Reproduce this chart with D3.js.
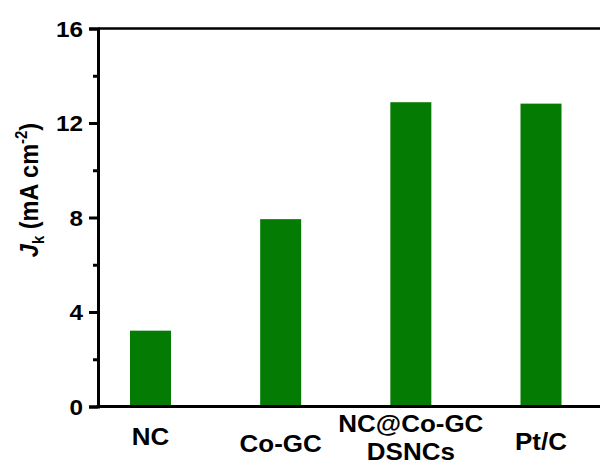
<!DOCTYPE html>
<html>
<head>
<meta charset="utf-8">
<script src="https://cdn.jsdelivr.net/npm/d3@7"></script>
<style>
  html, body { margin: 0; padding: 0; background: #fff; }
  svg { display: block; font-family: "Liberation Sans", Arial, sans-serif; }
</style>
</head>
<body>
<svg id="chart" width="600" height="466"></svg>
<script>
// data
const categories = ["NC", "Co-GC", "NC@Co-GC DSNCs", "Pt/C"];
const labelLines = [["NC"], ["Co-GC"], ["NC@Co-GC", "DSNCs"], ["Pt/C"]];
const jkValues = [3.21, 7.93, 12.88, 12.82];
const majorTicks = [0, 4, 8, 12, 16];
const minorTicks = [2, 6, 10, 14];

const svg = d3.select("#chart");
const plotLeft = 98, plotTop = 28.5, plotBottom = 406.5, plotRight = 640;
const stretch = 1.13; // the original picture is a bit wider than tall

const y = d3.scaleLinear().domain([0, 16]).range([plotBottom, plotTop]);
const x = d3.scalePoint().domain(categories).range([150.5, 541]);
const barW = 41;

// bars
svg.append("g").selectAll("rect")
  .data(categories)
  .join("rect")
  .attr("x", d => x(d) - barW / 2)
  .attr("y", (d, i) => y(jkValues[i]))
  .attr("width", barW)
  .attr("height", (d, i) => y(0) - y(jkValues[i]))
  .attr("fill", "#047c04");

// frame (top and bottom, right edge is outside the picture)
svg.append("line").attr("x1", plotLeft).attr("x2", plotRight).attr("y1", plotTop).attr("y2", plotTop)
  .attr("stroke", "#000").attr("stroke-width", 2.5);
svg.append("line").attr("x1", plotLeft - 1.5).attr("x2", plotRight).attr("y1", plotBottom).attr("y2", plotBottom)
  .attr("stroke", "#000").attr("stroke-width", 3);

// y axis
const yAxis = svg.append("g")
  .attr("transform", `translate(${plotLeft},0)`)
  .call(d3.axisLeft(y).tickValues(majorTicks).tickSize(9).tickFormat(d3.format("d")));
yAxis.select(".domain").attr("stroke-width", 3);
yAxis.selectAll(".tick line").attr("stroke-width", 3);
yAxis.selectAll(".tick text")
  .attr("x", null).attr("dy", null)
  .attr("transform", `translate(-15,7.5) scale(${stretch},1)`)
  .attr("font-size", 21.5).attr("font-weight", "bold")
  .attr("font-family", "Liberation Sans, Arial, sans-serif").attr("fill", "#000");

const yMinor = svg.append("g")
  .attr("transform", `translate(${plotLeft},0)`)
  .call(d3.axisLeft(y).tickValues(minorTicks).tickSize(5).tickFormat(""));
yMinor.select(".domain").remove();
yMinor.selectAll(".tick line").attr("stroke-width", 3);

// x labels (staggered as in the original)
const labelBase = [445, 451.5, 431.5, 450];
const xl = svg.append("g");
categories.forEach((c, i) => {
  const t = xl.append("text")
    .attr("transform", `translate(${x(c)},${labelBase[i]}) scale(${stretch},1)`)
    .attr("text-anchor", "middle")
    .attr("font-size", 23)
    .attr("font-weight", "bold");
  labelLines[i].forEach((ln, j) => {
    t.append("tspan").attr("x", 0).attr("dy", j === 0 ? 0 : 28.5).text(ln);
  });
});

// y axis title
const yt = svg.append("text")
  .attr("transform", `translate(38,190) rotate(-90) scale(1,${stretch})`)
  .attr("text-anchor", "middle")
  .attr("font-size", 23.5)
  .attr("font-weight", "bold");
yt.append("tspan").attr("font-style", "italic").text("J");
yt.append("tspan").attr("font-size", 15).attr("dy", 5).text("k");
yt.append("tspan").attr("dy", -5).text(" (mA cm");
yt.append("tspan").attr("font-size", 15).attr("dy", -10).text("-2");
yt.append("tspan").attr("dy", 10).text(")");
</script>
</body>
</html>
